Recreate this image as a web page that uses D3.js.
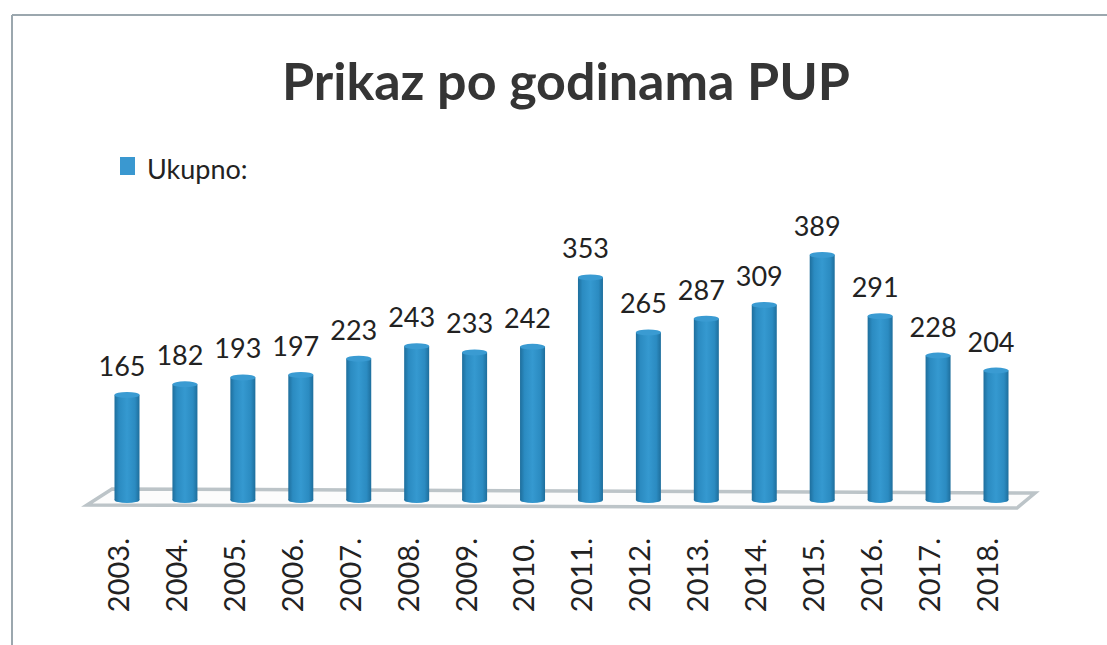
<!DOCTYPE html>
<html>
<head>
<meta charset="utf-8">
<script src="https://cdn.jsdelivr.net/npm/d3@7"></script>
<style>
  body { margin: 0; background: #fff; }
  svg { display: block; }
</style>
</head>
<body>
<svg id="drawing_region"></svg>
<script>

// data
const years = ['2003.', '2004.', '2005.', '2006.', '2007.', '2008.', '2009.', '2010.',
               '2011.', '2012.', '2013.', '2014.', '2015.', '2016.', '2017.', '2018.'];
const totals = [165, 182, 193, 197, 223, 243, 233, 242, 353, 265, 287, 309, 389, 291, 228, 204];
const seriesName = 'Ukupno:';
const chartTitle = 'Prikaz po godinama PUP';

const data = years.map((y, i) => ({ label: y, value: totals[i] }));

const width = 1107, height = 645;
const barWidth = 25, ry = 3;
const font = 'Lato, "Open Sans", sans-serif';

const svg = d3.select('#drawing_region')
    .attr('width', width)
    .attr('height', height);

// gradient for the cylinders
const defs = svg.append('defs');
const grad = defs.append('linearGradient')
    .attr('id', 'cyl')
    .attr('x1', '0%').attr('x2', '100%')
    .attr('y1', '0%').attr('y2', '0%');
grad.append('stop').attr('offset', '0%').attr('stop-color', '#1e6e9c');
grad.append('stop').attr('offset', '18%').attr('stop-color', '#2b8bc1');
grad.append('stop').attr('offset', '50%').attr('stop-color', '#3599d0');
grad.append('stop').attr('offset', '82%').attr('stop-color', '#2b8bc1');
grad.append('stop').attr('offset', '100%').attr('stop-color', '#1e6e9c');

// frame (scanned page border)
svg.append('line')
    .attr('x1', 12).attr('y1', 15).attr('x2', width).attr('y2', 15)
    .attr('stroke', '#9ba7ae').attr('stroke-width', 2);
svg.append('line')
    .attr('x1', 12).attr('y1', 15).attr('x2', 12).attr('y2', height)
    .attr('stroke', '#9ba7ae').attr('stroke-width', 2);

// title
svg.append('text')
    .attr('x', 566).attr('y', 100)
    .attr('text-anchor', 'middle')
    .attr('font-family', font)
    .attr('font-weight', 'bold')
    .attr('font-size', 52)
    .attr('fill', '#353535')
    .text(chartTitle);

// legend
svg.append('rect')
    .attr('x', 120).attr('y', 157)
    .attr('width', 15).attr('height', 18)
    .attr('fill', '#3a98d0');
svg.append('text')
    .attr('x', 147).attr('y', 179)
    .attr('font-family', font)
    .attr('font-size', 27)
    .attr('fill', '#222')
    .text(seriesName);

// scales
const xscale = d3.scalePoint()
    .domain(years)
    .range([127, 996]);

const yscale = d3.scaleLinear()
    .domain([0, 400])
    .range([495, 245]);

const base = yscale(0) + 5;

// floor
const x0 = xscale(years[0]), x1 = xscale(years[years.length - 1]);
const floorPts = [
    [x0 - 15, base - 11],
    [x1 + 39, base - 7],
    [x1 + 21, base + 8],
    [x0 - 40, base + 5]
];
svg.append('polygon')
    .attr('points', floorPts.map(p => p.join(',')).join(' '))
    .attr('fill', '#fcfcfc')
    .attr('stroke', '#bcc4c8')
    .attr('stroke-width', 3.5);

// bars (cylinders)
const bars = svg.append('g').selectAll('g')
    .data(data)
    .join('g');

bars.append('rect')
    .attr('x', d => xscale(d.label) - barWidth / 2)
    .attr('y', d => yscale(d.value) + ry)
    .attr('width', barWidth)
    .attr('height', d => base - yscale(d.value) - ry)
    .attr('fill', 'url(#cyl)');

bars.append('ellipse')
    .attr('cx', d => xscale(d.label))
    .attr('cy', base)
    .attr('rx', barWidth / 2)
    .attr('ry', ry)
    .attr('fill', 'url(#cyl)');

bars.append('ellipse')
    .attr('cx', d => xscale(d.label))
    .attr('cy', d => yscale(d.value) + ry)
    .attr('rx', barWidth / 2)
    .attr('ry', ry)
    .attr('fill', '#3a9bd2');

// value labels
svg.append('g').selectAll('text')
    .data(data)
    .join('text')
    .attr('x', d => xscale(d.label) - 5)
    .attr('y', d => yscale(d.value) - 16)
    .attr('text-anchor', 'middle')
    .attr('font-family', font)
    .attr('font-size', 27)
    .attr('fill', '#222')
    .text(d => d.value);

// x axis labels (rotated)
const xaxis = d3.axisBottom(xscale).tickSize(0).tickPadding(0);
const xaxis_group = svg.append('g')
    .attr('transform', `translate(-9, 538)`)
    .call(xaxis);
xaxis_group.select('.domain').remove();
xaxis_group.selectAll('text')
    .attr('transform', 'rotate(-90)')
    .attr('x', 0)
    .attr('y', 0)
    .attr('dy', '0.36em')
    .attr('text-anchor', 'end')
    .attr('font-family', font)
    .attr('font-size', 29)
    .attr('fill', '#222');

</script>
</body>
</html>
